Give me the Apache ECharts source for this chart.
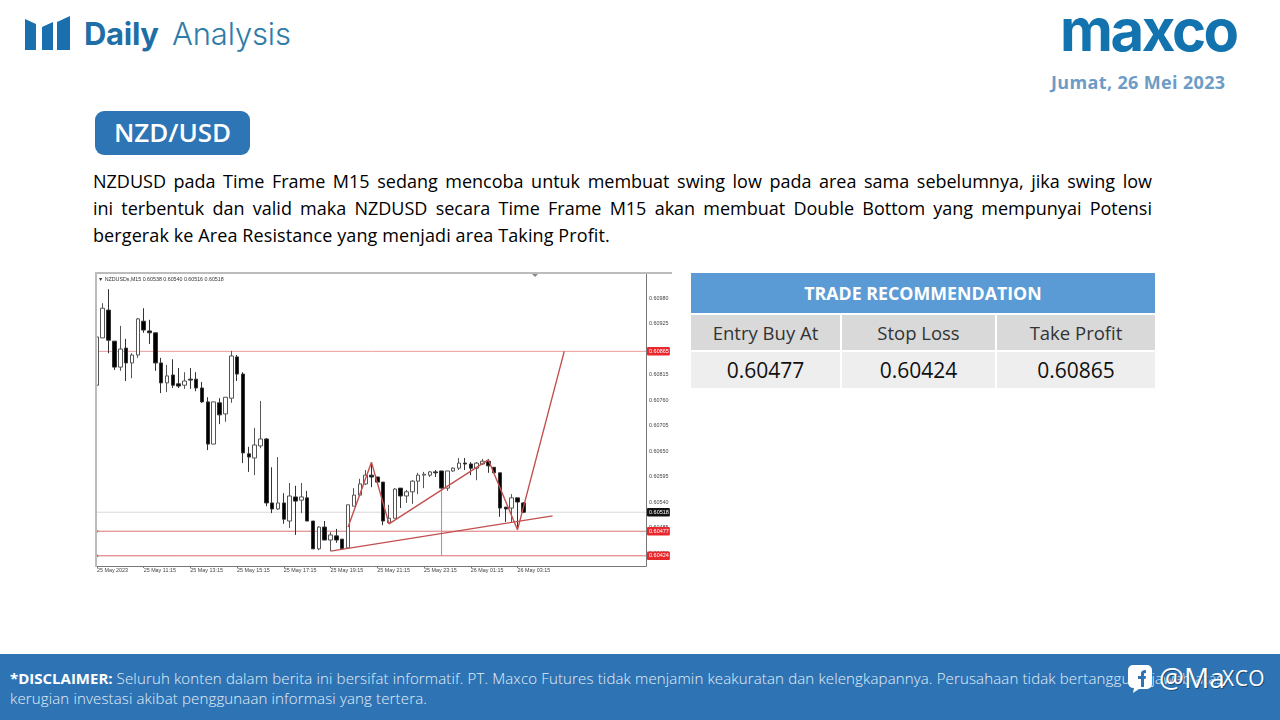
<!DOCTYPE html>
<html><head><meta charset="utf-8"><title>NZD/USD Daily Analysis</title>
<script src="https://cdn.jsdelivr.net/npm/echarts@6/dist/echarts.min.js"></script>
<style>
html,body{margin:0;padding:0;background:#fff;width:1280px;height:720px;overflow:hidden}
body{position:relative;font-family:"Open Sans",sans-serif}
.a{position:absolute;white-space:nowrap}
#chart{position:absolute;left:90px;top:265px;width:590px;height:315px;filter:blur(.35px)}
#topbar{position:absolute;left:95px;top:272px;width:577px;height:2px;background:#bcbcbc}
#leftbar{position:absolute;left:95px;top:272px;width:2px;height:295px;background:#bcbcbc}
.pl{position:absolute;left:93px;width:1059px;font-size:18px;line-height:27px;color:#000;text-align:justify;text-align-last:justify}
table{position:absolute;left:689px;top:271px;width:468px;border-collapse:separate;border-spacing:2px;table-layout:fixed}
td{text-align:center;color:#222;padding:0}
.h{background:#5b9bd5;color:#fff;font-weight:700;font-size:17.8px;height:40px}
.r1 td{background:#d9d9d9;font-size:18.5px;height:35px;color:#333}
.r2 td{background:#eeeeee;font-size:21px;height:36px;color:#111}
#foot{position:absolute;left:0;top:654px;width:1280px;height:66px;background:#2e74b5}
</style></head><body>
<svg class="a" style="left:25px;top:15px" width="46" height="36" viewBox="0 0 46 36">
<path fill="#1a6fae" d="M0 4l11 5v26H0zM17 12l11-5v28H17zM32 7L45 1v34H32z"/></svg>
<div class="a" style="left:84px;top:15px;font:700 31px Inter,sans-serif;color:#1f6fa6;letter-spacing:-.3px">Daily</div>
<div class="a" style="left:172px;top:15px;font:300 31px Inter,sans-serif;color:#2f7ba8;letter-spacing:-.15px">Analysis</div>
<div class="a" style="left:1060px;top:-5px;font:700 58px Inter,sans-serif;color:#1273ae;letter-spacing:-2.4px">maxco</div>
<div class="a" style="left:1051px;top:70px;font:700 18px 'Open Sans',sans-serif;color:#6c9cc6;letter-spacing:.35px">Jumat, 26 Mei 2023</div>
<div class="a" style="left:95px;top:111px;width:155px;height:44px;border-radius:9px;background:#2e75b6;color:#fff;text-align:center;font:600 26px/42px 'Open Sans',sans-serif">NZD/USD</div>
<div class="pl" style="top:167.5px">NZDUSD pada Time Frame M15 sedang mencoba untuk membuat swing low pada area sama sebelumnya, jika swing low</div>
<div class="pl" style="top:194.5px">ini terbentuk dan valid maka NZDUSD secara Time Frame M15 akan membuat Double Bottom yang mempunyai Potensi</div>
<div class="pl" style="top:221.5px;text-align-last:left;letter-spacing:.1px">bergerak ke Area Resistance yang menjadi area Taking Profit.</div>
<div id="chart"></div><div id="topbar"></div><div id="leftbar"></div>
<table><colgroup><col style="width:149px"><col style="width:153px"><col style="width:158px"></colgroup>
<tr><td class="h" colspan="3">TRADE RECOMMENDATION</td></tr>
<tr class="r1"><td>Entry Buy At</td><td>Stop Loss</td><td>Take Profit</td></tr>
<tr class="r2"><td>0.60477</td><td>0.60424</td><td>0.60865</td></tr></table>
<div id="foot"></div>
<div class="a" style="left:10px;top:668px;font:300 15px/20px 'Open Sans',sans-serif;color:#e3eef8;letter-spacing:.15px"><b style="color:#fff;font-weight:700;letter-spacing:0">*DISCLAIMER:</b> Seluruh konten dalam berita ini bersifat informatif. PT. Maxco Futures tidak menjamin keakuratan dan kelengkapannya. Perusahaan tidak bertanggung jawab atas<br>kerugian investasi akibat penggunaan informasi yang tertera.</div>
<svg class="a" style="left:1127px;top:664px" width="26" height="30" viewBox="0 0 26 30"><path fill="#fff" d="M6 1h14a5 5 0 0 1 5 5v14a5 5 0 0 1-5 5H12l-6 4 1-5a6 6 0 0 1-6-5V6a5 5 0 0 1 5-5z"/><path fill="#2e74b5" d="M14 23v-8h-3v-3h3v-3c0-2 2-3 5-3v3c-2 0-2 0-2 3h2l-.5 3H17v8z"/></svg>
<div class="a" style="left:1159px;top:658px;font:400 28px 'Open Sans',sans-serif;color:#fff;text-shadow:1px 1px 0 #1b4a75">@Ma</div>
<div class="a" style="left:1222px;top:664px;font:400 21px 'Open Sans',sans-serif;color:#fff;letter-spacing:.5px;text-shadow:1px 1px 0 #1b4a75">XCO</div>
<script>
var opens=[0.60792,0.60894,0.60954,0.60887,0.60831,0.60872,0.60840,0.60857,0.60930,0.60909,0.60905,0.60840,0.60797,0.60814,0.60795,0.60792,0.60805,0.60805,0.60786,0.60756,0.60665,0.60754,0.60730,0.60764,0.60853,0.60816,0.60644,0.60635,0.60661,0.60676,0.60538,0.60525,0.60538,0.60499,0.60551,0.60544,0.60549,0.60499,0.60439,0.60486,0.60458,0.60467,0.60460,0.60441,0.60531,0.60555,0.60579,0.60598,0.60594,0.60583,0.60495,0.60505,0.60570,0.60553,0.60562,0.60585,0.60598,0.60598,0.60605,0.60607,0.60570,0.60607,0.60613,0.60624,0.60622,0.60613,0.60622,0.60628,0.60615,0.60603,0.60529,0.60527,0.60549,0.60538];
var closes=[0.60896,0.60958,0.60889,0.60831,0.60870,0.60840,0.60857,0.60935,0.60911,0.60905,0.60840,0.60797,0.60812,0.60792,0.60790,0.60801,0.60803,0.60786,0.60756,0.60665,0.60756,0.60728,0.60766,0.60855,0.60816,0.60646,0.60637,0.60663,0.60676,0.60538,0.60525,0.60538,0.60503,0.60553,0.60542,0.60551,0.60499,0.60439,0.60486,0.60458,0.60469,0.60458,0.60439,0.60534,0.60555,0.60579,0.60598,0.60594,0.60583,0.60499,0.60505,0.60568,0.60553,0.60562,0.60585,0.60598,0.60600,0.60605,0.60603,0.60570,0.60607,0.60613,0.60624,0.60622,0.60613,0.60624,0.60628,0.60618,0.60603,0.60527,0.60525,0.60549,0.60540,0.60518];
var lows=[0.60786,0.60894,0.60861,0.60825,0.60823,0.60801,0.60807,0.60851,0.60905,0.60881,0.60823,0.60775,0.60777,0.60786,0.60786,0.60784,0.60784,0.60779,0.60754,0.60652,0.60665,0.60708,0.60713,0.60754,0.60801,0.60624,0.60605,0.60598,0.60656,0.60531,0.60516,0.60523,0.60493,0.60484,0.60469,0.60516,0.60499,0.60439,0.60436,0.60458,0.60434,0.60452,0.60439,0.60439,0.60531,0.60555,0.60577,0.60572,0.60581,0.60490,0.60495,0.60505,0.60527,0.60538,0.60536,0.60557,0.60570,0.60594,0.60594,0.60570,0.60564,0.60605,0.60609,0.60609,0.60598,0.60587,0.60620,0.60603,0.60603,0.60508,0.60497,0.60495,0.60480,0.60516];
var highs=[0.60902,0.60969,0.60999,0.60887,0.60920,0.60892,0.60861,0.60937,0.60958,0.60933,0.60905,0.60851,0.60836,0.60848,0.60829,0.60820,0.60829,0.60820,0.60799,0.60766,0.60756,0.60764,0.60766,0.60866,0.60857,0.60820,0.60659,0.60700,0.60758,0.60678,0.60615,0.60637,0.60559,0.60581,0.60575,0.60581,0.60564,0.60499,0.60488,0.60499,0.60475,0.60482,0.60460,0.60534,0.60570,0.60590,0.60609,0.60626,0.60594,0.60583,0.60534,0.60570,0.60570,0.60566,0.60587,0.60603,0.60605,0.60607,0.60609,0.60607,0.60607,0.60615,0.60635,0.60635,0.60626,0.60626,0.60633,0.60633,0.60615,0.60603,0.60529,0.60557,0.60549,0.60540];
var priceTicks=[0.60430,0.60485,0.60540,0.60595,0.60650,0.60705,0.60760,0.60815,0.60870,0.60925,0.60980];
var timeTicks=['25 May 2023','25 May 11:15','25 May 13:15','25 May 15:15','25 May 17:15','25 May 19:15','25 May 21:15','25 May 23:15','26 May 01:15','26 May 03:15'];
var slotsPerTick=8, slotCount=95;
var takeProfit=0.60865, entryBuy=0.60477, stopLoss=0.60424, lastPrice=0.60518;
var zigzag=[[43,0.60486],[47,0.60626],[50,0.60493],[67,0.60631],[72,0.60480],[80,0.60865]];
var trendLine=[[40,0.60434],[78,0.60510]];
var vertLine=[[59,0.60570],[59,0.60424]];
var quoteTitle='\u25BC NZDUSDs,M15 0.60538 0.60540 0.60516 0.60518';

var categories=[];
for(var i=0;i<slotCount;i++){categories.push(i%slotsPerTick===0&&timeTicks[i/slotsPerTick]?timeTicks[i/slotsPerTick]:'');}
var candles=opens.map(function(o,i){return [o,closes[i],lows[i],highs[i]];});
function isTick(i){return i%slotsPerTick===0&&!!timeTicks[i/slotsPerTick];}
function level(name,v,color,bg,dot){return {type:'line',name:name,z:2,clip:false,silent:true,showSymbol:true,showAllSymbol:true,
 data:[{value:[0,v],symbol:dot?'circle':'none',symbolSize:3,itemStyle:{color:color}},{value:[slotCount-1,v],symbol:'none'}],
 lineStyle:{color:color,width:1},
 endLabel:{show:true,distance:1,formatter:v.toFixed(5),color:'#fff',backgroundColor:bg,fontSize:5.5,fontFamily:'Liberation Sans',padding:[1.5,1,1,2],borderRadius:1}};}
var chart=echarts.init(document.getElementById('chart'),null,{renderer:'canvas'});
chart.setOption({
 animation:false,backgroundColor:'#fff',
 title:{text:quoteTitle,left:3,top:7,textStyle:{fontSize:5.3,fontWeight:'normal',color:'#333',fontFamily:'Liberation Sans'}},
 grid:{left:6.9,top:8,width:549.1,height:293,show:false},
 xAxis:{type:'category',data:categories,boundaryGap:false,
  axisLine:{lineStyle:{color:'#777'}},
  axisTick:{show:true,length:2,interval:isTick,lineStyle:{color:'#777'}},
  axisLabel:{interval:isTick,align:'left',fontSize:5.4,color:'#444',margin:2,fontFamily:'Liberation Sans',hideOverlap:false},splitLine:{show:false}},
 yAxis:{type:'value',position:'right',min:0.60402,max:0.61034,scale:true,
  axisLine:{show:true,lineStyle:{color:'#777'}},axisTick:{show:false},
  axisLabel:{customValues:priceTicks,fontSize:5.4,color:'#444',margin:3,fontFamily:'Liberation Sans',formatter:function(v){return v.toFixed(5);}},splitLine:{show:false}},
 series:[
  level('take profit',takeProfit,'#eb9a9a','#e8282c',false),
  level('entry',entryBuy,'#dc7474','#e8282c',true),
  level('stop loss',stopLoss,'#dc6a6a','#e8282c',true),
  level('last',lastPrice,'#d8d8d8','#111',false),
  {type:'line',name:'vertical',data:vertLine,showSymbol:false,z:2,lineStyle:{color:'#999',width:1}},
  {type:'candlestick',name:'NZDUSD',data:candles,barWidth:4,z:3,
   itemStyle:{color:'#fff',color0:'#000',borderColor:'#555',borderColor0:'#333',borderWidth:1}},
  {type:'line',name:'zigzag',data:zigzag,showSymbol:false,z:4,lineStyle:{color:'#c2504f',width:1.4}},
  {type:'line',name:'trend',data:trendLine,showSymbol:false,z:4,lineStyle:{color:'#c2504f',width:1.4}}
 ],
 graphic:[{type:'polygon',shape:{points:[[442,9],[448,9],[445,12]]},style:{fill:'#888'}}]
});
</script>
</body></html>
